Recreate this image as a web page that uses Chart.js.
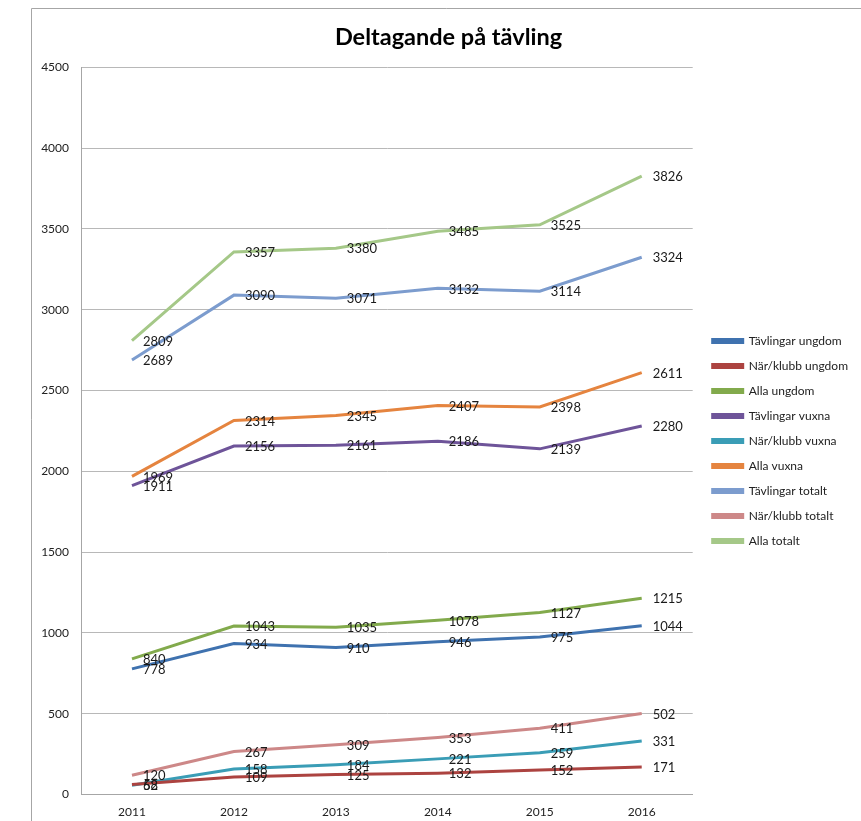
<!DOCTYPE html>
<html>
<head>
<meta charset="utf-8">
<script src="https://cdn.jsdelivr.net/npm/chart.js@4"></script>
<style>
html,body{margin:0;padding:0;background:#fff;overflow:hidden;}
#wrap{position:relative;width:861px;height:821px;overflow:hidden;}
</style>
</head>
<body>
<div id="wrap"><canvas id="c" width="861" height="829"></canvas></div>
<script>
const years = ['2011','2012','2013','2014','2015','2016'];
const seriesNames = ['Tävlingar ungdom','När/klubb ungdom','Alla ungdom','Tävlingar vuxna','När/klubb vuxna','Alla vuxna','Tävlingar totalt','När/klubb totalt','Alla totalt'];
const tavlingarUngdom = [778, 934, 910, 946, 975, 1044];
const narKlubbUngdom  = [62, 109, 125, 132, 152, 171];
const allaUngdom      = [840, 1043, 1035, 1078, 1127, 1215];
const tavlingarVuxna  = [1911, 2156, 2161, 2186, 2139, 2280];
const narKlubbVuxna   = [58, 158, 184, 221, 259, 331];
const allaVuxna       = [1969, 2314, 2345, 2407, 2398, 2611];
const tavlingarTotalt = [2689, 3090, 3071, 3132, 3114, 3324];
const narKlubbTotalt  = [120, 267, 309, 353, 411, 502];
const allaTotalt      = [2809, 3357, 3380, 3485, 3525, 3826];
const colors = ['#3F72AF','#AC4340','#82AA4C','#6E5499','#3A9DB6','#E5843F','#7C9CCE','#CD8888','#A5C888'];
const allSeries = [tavlingarUngdom, narKlubbUngdom, allaUngdom, tavlingarVuxna, narKlubbVuxna, allaVuxna, tavlingarTotalt, narKlubbTotalt, allaTotalt];

const FONT = 'Lato, "Open Sans", sans-serif';

const framePlugin = {
  id: 'frame',
  afterLayout(chart) {
    // nudge legend and title to match reference placement
    if (chart.legend) { chart.legend.left += 7; chart.legend.right += 7; }
    if (chart.titleBlock) { chart.titleBlock.left += 46; }
  },
  beforeDraw(chart) {
    const ctx = chart.ctx;
    ctx.save();
    ctx.strokeStyle = '#a6a6a6';
    ctx.lineWidth = 1;
    ctx.beginPath();
    ctx.moveTo(31.5, 840);
    ctx.lineTo(31.5, 8.5);
    ctx.lineTo(870, 8.5);
    ctx.stroke();
    ctx.restore();
  }
};

const labelPlugin = {
  id: 'valueLabels',
  afterDatasetsDraw(chart) {
    const ctx = chart.ctx;
    ctx.save();
    ctx.font = '13px ' + FONT;
    ctx.fillStyle = '#1a1a1a';
    ctx.textAlign = 'left';
    ctx.textBaseline = 'middle';
    chart.data.datasets.forEach((ds, i) => {
      const meta = chart.getDatasetMeta(i);
      meta.data.forEach((el, j) => {
        ctx.fillText(String(ds.data[j]), el.x + 11, el.y + 1);
      });
    });
    ctx.restore();
  }
};

new Chart(document.getElementById('c'), {
  type: 'line',
  data: {
    labels: years,
    datasets: seriesNames.map((n, i) => ({
      label: n,
      data: allSeries[i],
      borderColor: colors[i],
      backgroundColor: colors[i],
      borderWidth: 3,
      pointRadius: 0,
      tension: 0,
      fill: false
    }))
  },
  options: {
    responsive: false,
    animation: false,
    devicePixelRatio: 1,
    layout: { padding: { left: 0, right: 10, top: 0, bottom: 0 } },
    plugins: {
      title: {
        display: true,
        text: 'Deltagande på tävling',
        color: '#000',
        font: { family: FONT, size: 23.5, weight: 'bold' },
        padding: { top: 23, bottom: 16 }
      },
      legend: {
        position: 'right',
        title: { display: true, text: ' ', font: { size: 10 }, padding: { top: 20, bottom: 21 } },
        labels: {
          boxWidth: 30,
          boxHeight: 3,
          padding: 13,
          color: '#222',
          font: { family: FONT, size: 12 }
        }
      },
      tooltip: { enabled: false }
    },
    scales: {
      x: {
        offset: true,
        grid: { display: false, drawTicks: false },
        border: { display: true, color: '#a6a6a6' },
        ticks: { color: '#222', font: { family: FONT, size: 12 }, padding: 10 }
      },
      y: {
        min: 0,
        max: 4500,
        afterFit(scale) { scale.width = 81; },
        grid: { color: '#b8b8b8', drawTicks: false },
        border: { display: true, color: '#a6a6a6' },
        ticks: { stepSize: 500, color: '#222', font: { family: FONT, size: 12 }, padding: 12,
                 callback: (v) => String(v) }
      }
    }
  },
  plugins: [framePlugin, labelPlugin]
});
</script>
</body>
</html>
